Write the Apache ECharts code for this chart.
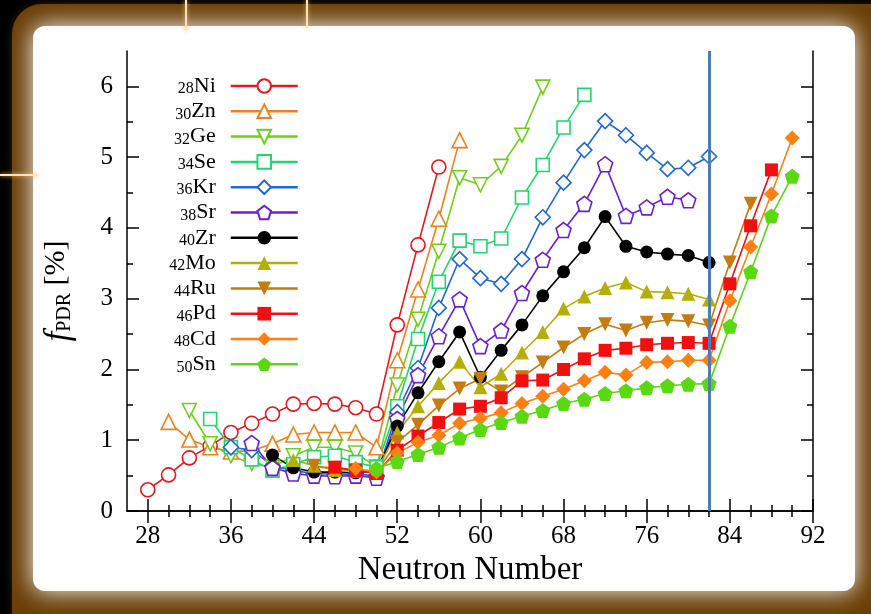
<!DOCTYPE html>
<html>
<head>
<meta charset="utf-8">
<script src="https://cdn.jsdelivr.net/npm/echarts@6/dist/echarts.min.js"></script>
<style>
  html, body { margin: 0; padding: 0; background: #000; }
  #main { width: 871px; height: 614px; }
</style>
</head>
<body>
<div id="main"></div>
<script>
var elementNames = ['Ni', 'Zn', 'Ge', 'Se', 'Kr', 'Sr', 'Zr', 'Mo', 'Ru', 'Pd', 'Cd', 'Sn'];
var protonNumbers = [28, 30, 32, 34, 36, 38, 40, 42, 44, 46, 48, 50];
// first neutron number of each chain, points every 2 neutrons
var firstNeutron = [28, 30, 32, 34, 36, 38, 40, 42, 44, 46, 48, 50];

var fNi = [0.30, 0.51, 0.75, 0.92, 1.11, 1.24, 1.37, 1.51, 1.52, 1.51, 1.46, 1.37, 2.63, 3.76, 4.86];
var fZn = [1.26, 1.01, 0.90, 0.84, 0.85, 0.95, 1.08, 1.11, 1.11, 1.11, 0.90, 2.13, 3.13, 4.13, 5.24];
var fGe = [1.42, 0.95, 0.78, 0.67, 0.62, 0.78, 0.90, 0.90, 0.82, 0.62, 1.78, 2.71, 3.67, 4.71, 4.61, 4.87, 5.31, 5.99];
var fSe = [1.30, 0.90, 0.73, 0.57, 0.66, 0.76, 0.78, 0.69, 0.62, 1.48, 2.43, 3.24, 3.82, 3.74, 3.85, 4.43, 4.89, 5.42, 5.88];
var fKr = [0.90, 0.86, 0.64, 0.57, 0.53, 0.52, 0.52, 0.50, 1.40, 2.02, 2.87, 3.56, 3.29, 3.21, 3.56, 4.15, 4.64, 5.10, 5.51, 5.31, 5.06, 4.83, 4.85, 5.01];
var fSr = [0.96, 0.61, 0.53, 0.50, 0.49, 0.50, 0.47, 1.30, 1.92, 2.47, 2.99, 2.33, 2.55, 3.08, 3.55, 3.97, 4.34, 4.90, 4.17, 4.29, 4.44, 4.39];
var fZr = [0.79, 0.61, 0.55, 0.55, 0.54, 0.57, 1.20, 1.67, 2.11, 2.53, 1.89, 2.27, 2.63, 3.04, 3.38, 3.72, 4.16, 3.74, 3.66, 3.63, 3.61, 3.51];
var fMo = [0.72, 0.64, 0.58, 0.57, 0.57, 1.11, 1.48, 1.81, 2.11, 1.75, 1.94, 2.24, 2.53, 2.86, 3.03, 3.15, 3.23, 3.10, 3.09, 3.07, 2.99];
var fRu = [0.64, 0.60, 0.58, 0.55, 0.97, 1.22, 1.49, 1.73, 1.87, 1.69, 1.89, 2.10, 2.31, 2.50, 2.64, 2.55, 2.66, 2.70, 2.68, 2.62, 3.51, 4.34];
var fPd = [0.62, 0.57, 0.53, 0.86, 1.06, 1.25, 1.44, 1.48, 1.60, 1.84, 1.85, 2.00, 2.15, 2.27, 2.30, 2.35, 2.37, 2.38, 2.37, 3.21, 4.03, 4.82];
var fCd = [0.60, 0.55, 0.82, 0.97, 1.07, 1.24, 1.31, 1.39, 1.52, 1.62, 1.72, 1.84, 1.96, 1.92, 2.10, 2.11, 2.13, 2.13, 2.97, 3.73, 4.48, 5.27];
var fSn = [0.60, 0.70, 0.80, 0.90, 1.03, 1.15, 1.25, 1.34, 1.42, 1.52, 1.58, 1.66, 1.70, 1.74, 1.77, 1.79, 1.80, 2.61, 3.38, 4.17, 4.73];
var allValues = [fNi, fZn, fGe, fSe, fKr, fSr, fZr, fMo, fRu, fPd, fCd, fSn];

var colors = ['#e8161e', '#f0801c', '#6fd01c', '#1fd76a', '#1f68d8', '#6a1ed8', '#000000', '#b5ae06', '#c47b12', '#f20f0f', '#ff7f10', '#5ad910'];
var hollow = [true, true, true, true, true, true, false, false, false, false, false, false];

var triDown = 'path://M0,0 L2,0 L1,1.732 Z';
var pentagon = 'path://M1,0 L1.951,0.691 L1.588,1.809 L0.412,1.809 L0.049,0.691 Z';
var symbols = ['circle', 'triangle', triDown, 'rect', 'diamond', pentagon, 'circle', 'triangle', triDown, 'rect', 'diamond', pentagon];
var symbolSizes = [14, 15, 14, 13, 15, 15, 13, 14, 14, 13, 15, 15];

var xMajor = [28, 36, 44, 52, 60, 68, 76, 84, 92];
var xMinor = [28, 30, 32, 34, 36, 38, 40, 42, 44, 46, 48, 50, 52, 54, 56, 58, 60, 62, 64, 66, 68, 70, 72, 74, 76, 78, 80, 82, 84, 86, 88, 90, 92];
var yMajor = [0, 1, 2, 3, 4, 5, 6];
var yMinor = [0.5, 1.5, 2.5, 3.5, 4.5, 5.5];
var shellClosure = 82;

var serif = 'Liberation Serif';

var myChart = echarts.init(document.getElementById('main'));

var series = [];
for (var i = 0; i < elementNames.length; i++) {
    var pts = [];
    for (var k = 0; k < allValues[i].length; k++) {
        pts.push([firstNeutron[i] + 2 * k, allValues[i][k]]);
    }
    var s = {
        name: elementNames[i],
        type: 'line',
        data: pts,
        symbol: symbols[i],
        symbolSize: symbolSizes[i],
        lineStyle: { color: colors[i], width: 1.6 },
        itemStyle: hollow[i]
            ? { color: '#ffffff', borderColor: colors[i], borderWidth: 1.6 }
            : { color: colors[i], borderWidth: 0 },
        emphasis: { disabled: true },
        animation: false
    };
    if (i === 0) {
        s.markLine = {
            silent: true,
            symbol: 'none',
            label: { show: false },
            lineStyle: { color: '#4a7ebb', width: 3, type: 'solid' },
            data: [{ xAxis: shellClosure }]
        };
    }
    series.push(s);
}

function xAx(pos, ticks, len, labels, line) {
    return {
        type: 'value', position: pos, min: 26, max: 92,
        axisLine: { show: line, lineStyle: { color: '#000', width: 1.5 } },
        axisTick: { show: true, inside: true, length: len, customValues: ticks, lineStyle: { color: '#000', width: 1.5 } },
        axisLabel: labels ? { customValues: xMajor, color: '#000', fontFamily: serif, fontSize: 25, margin: 13 } : { show: false },
        splitLine: { show: false }
    };
}
function yAx(pos, ticks, len, labels, line) {
    return {
        type: 'value', position: pos, min: 0, max: 6.5,
        axisLine: { show: line, lineStyle: { color: '#000', width: 1.5 } },
        axisTick: { show: true, inside: true, length: len, customValues: ticks, lineStyle: { color: '#000', width: 1.5 } },
        axisLabel: labels ? { customValues: yMajor, color: '#000', fontFamily: serif, fontSize: 25, margin: 14 } : { show: false },
        splitLine: { show: false }
    };
}

var xBottom = xAx('bottom', xMajor, 12, true, true);
xBottom.name = 'Neutron Number';
xBottom.nameLocation = 'middle';
xBottom.nameGap = 38;
xBottom.nameTextStyle = { color: '#000', fontFamily: serif, fontSize: 33 };

var yLeft = yAx('left', yMajor, 12, true, true);
yLeft.name = '{f|f}{p|PDR}{b| [%]}';
yLeft.nameLocation = 'middle';
yLeft.nameGap = 52;
yLeft.nameTextStyle = {
    color: '#000', fontFamily: serif,
    rich: {
        f: { fontFamily: serif, fontStyle: 'italic', fontSize: 35, lineHeight: 34, verticalAlign: 'top', color: '#000' },
        p: { fontFamily: serif, fontSize: 20, lineHeight: 20, verticalAlign: 'bottom', color: '#000' },
        b: { fontFamily: serif, fontSize: 30, lineHeight: 34, verticalAlign: 'top', padding: [0, 20, 0, 0], color: '#000' }
    }
};

option = {
    backgroundColor: '#000',
    animation: false,
    grid: { left: 127, right: 58, top: 51, bottom: 103, containLabel: false, outerBoundsMode: 'none' },
    graphic: { elements: [
        { type: 'rect', z: -20, silent: true,
          shape: { x: 12, y: 4, width: 900, height: 640, r: 30 },
          style: { fill: '#6b3f07', shadowBlur: 10, shadowColor: '#2a1703' } },
        { type: 'rect', z: -19, silent: true,
          shape: { x: 33, y: 26, width: 822, height: 565, r: 12 },
          style: { fill: '#ffffff', shadowBlur: 24, shadowColor: 'rgba(255,255,255,1)' } },
        { type: 'line', z: -18, silent: true, shape: { x1: 186, y1: 0, x2: 186, y2: 31 },
          style: { stroke: '#ffe3c4', lineWidth: 2, shadowBlur: 4, shadowColor: '#ffb060' } },
        { type: 'line', z: -18, silent: true, shape: { x1: 307, y1: 0, x2: 307, y2: 28 },
          style: { stroke: '#ffe3c4', lineWidth: 2, shadowBlur: 4, shadowColor: '#ffb060' } },
        { type: 'line', z: -18, silent: true, shape: { x1: 0, y1: 175, x2: 38, y2: 175 },
          style: { stroke: '#ffe3c4', lineWidth: 2, shadowBlur: 4, shadowColor: '#ffb060' } }
    ] },
    legend: {
        orient: 'vertical',
        right: 572,
        top: 72,
        padding: 0,
        itemGap: 0.3,
        itemWidth: 67,
        itemHeight: 17,
        align: 'right',
        selectedMode: false,
        data: elementNames,
        lineStyle: { width: 2.5 },
        formatter: function (name) {
            var idx = elementNames.indexOf(name);
            return '{s|' + protonNumbers[idx] + '}{e|' + name + '}';
        },
        textStyle: {
            color: '#000', fontFamily: serif,
            rich: {
                s: { fontFamily: serif, fontSize: 16, lineHeight: 16, padding: [9, 0, 0, 0], verticalAlign: 'bottom', color: '#000' },
                e: { fontFamily: serif, fontSize: 22, lineHeight: 22, padding: [0, 10, 0, 0], verticalAlign: 'top', color: '#000' }
            }
        }
    },
    xAxis: [
        xBottom,
        xAx('top', xMajor, 12, false, true),
        xAx('bottom', xMinor, 6, false, false),
        xAx('top', xMinor, 6, false, false)
    ],
    yAxis: [
        yLeft,
        yAx('right', yMajor, 12, false, true),
        yAx('left', yMinor, 6, false, false),
        yAx('right', yMinor, 6, false, false)
    ],
    series: series
};

myChart.setOption(option);
</script>
</body>
</html>
